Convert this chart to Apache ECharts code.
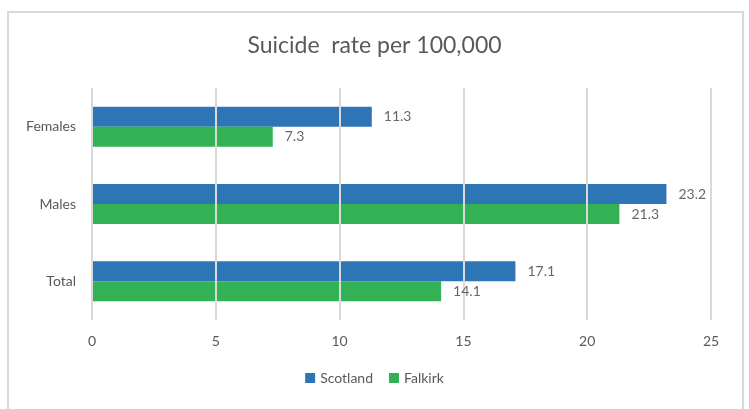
<!DOCTYPE html>
<html>
<head>
<meta charset="utf-8">
<script src="https://cdn.jsdelivr.net/npm/echarts@6/dist/echarts.min.js"></script>
<style>
  html, body { margin: 0; padding: 0; background: #fff; }
  #frame { position: absolute; left: 7px; top: 11px; width: 737px; height: 410px; border: 2px solid #D9D9D9; box-sizing: border-box; }
  #chart { position: absolute; left: 0; top: 0; width: 749px; height: 409px; }
</style>
</head>
<body>
<div id="frame"></div>
<div id="chart"></div>
<script>
// Rates per 100,000 by group, listed bottom to top on the vertical axis
const categories = ['Total', 'Males', 'Females'];
const scotland = [17.1, 23.2, 11.3];
const falkirk = [14.1, 21.3, 7.3];
const xTicks = [0, 5, 10, 15, 20, 25];

const font = 'Lato, "Open Sans", sans-serif';
const chart = echarts.init(document.getElementById('chart'));

// Value labels sit above the grid lines, which themselves run over the bars
function valueLabels(name, values, dy) {
  return {
    name: name,
    type: 'scatter',
    data: values.map((v, i) => [v, i]),
    symbolSize: 0,
    z: 10,
    silent: true,
    label: {
      show: true,
      position: 'right',
      distance: 12,
      offset: [0, dy],
      formatter: p => p.value[0].toFixed(1),
      fontFamily: font,
      fontSize: 14,
      color: '#404040'
    }
  };
}

chart.setOption({
  animation: false,
  textStyle: { fontFamily: font },
  title: {
    text: 'Suicide  rate per 100,000',
    left: 'center',
    top: 29,
    textStyle: { fontFamily: font, fontSize: 23, fontWeight: 'normal', color: '#595959' }
  },
  legend: {
    data: ['Scotland', 'Falkirk'],
    bottom: 19,
    left: 'center',
    icon: 'rect',
    itemWidth: 10,
    itemHeight: 10,
    itemGap: 16,
    textStyle: { fontFamily: font, fontSize: 14, color: '#595959' }
  },
  grid: { left: 92, right: 38, top: 88, bottom: 89, containLabel: false },
  xAxis: {
    type: 'value',
    min: xTicks[0],
    max: xTicks[xTicks.length - 1],
    interval: 5,
    z: 5,
    axisLine: { show: false },
    axisTick: { show: false },
    axisLabel: { fontFamily: font, fontSize: 14, color: '#595959', margin: 14 },
    splitLine: { lineStyle: { color: '#D9D9D9', width: 2 } }
  },
  yAxis: {
    type: 'category',
    data: categories,
    axisLine: { show: false },
    axisTick: { show: false },
    axisLabel: { fontFamily: font, fontSize: 14, color: '#595959', margin: 16 }
  },
  series: [
    {
      name: 'Scotland',
      type: 'bar',
      data: scotland,
      barWidth: 20,
      barGap: '0%',
      itemStyle: { color: '#2E75B6' }
    },
    {
      name: 'Falkirk',
      type: 'bar',
      data: falkirk,
      barWidth: 20,
      barGap: '0%',
      itemStyle: { color: '#33B155' }
    },
    valueLabels('Scotland values', scotland, -10),
    valueLabels('Falkirk values', falkirk, 10)
  ]
});
</script>
</body>
</html>
